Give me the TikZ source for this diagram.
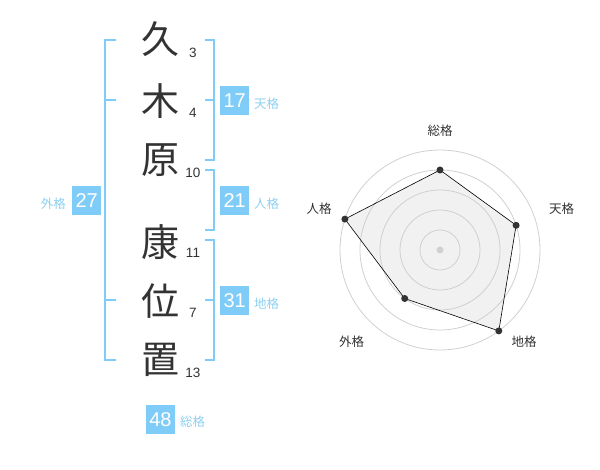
\documentclass[tikz,border=0pt]{standalone}
\usepackage{fontspec}
\setmainfont{Liberation Sans}
\newfontfamily\cjk{Noto Sans CJK JP}
\definecolor{badge}{RGB}{128,204,248}
\definecolor{lblue}{RGB}{140,208,242}
\definecolor{ink}{RGB}{51,51,51}
\definecolor{ring}{RGB}{208,208,208}
\definecolor{area}{RGB}{241,241,241}
\tikzset{
  kanji/.style={inner sep=0pt, text=ink, font=\cjk\fontsize{38}{38}\selectfont},
  strokes/.style={inner sep=0pt, text=ink, font=\fontsize{13.5}{13.5}\selectfont},
  badgebox/.style={fill=badge, text=white, minimum size=29pt, inner sep=0pt, font=\fontsize{20}{20}\selectfont},
  kaku/.style={inner sep=0pt, text=lblue, font=\cjk\fontsize{12.5}{12.5}\selectfont},
  brack/.style={draw=badge, line width=2pt},
  ringline/.style={draw=ring, line width=0.8pt},
  vert/.style={circle, fill=ink, inner sep=0pt, minimum size=7pt},
  rlabel/.style={inner sep=0pt, text=ink, font=\cjk\fontsize{12.5}{12.5}\selectfont},
}
\begin{document}
\begin{tikzpicture}[x=1pt,y=-1pt]
\useasboundingbox (0,0) rectangle (600,470);
% kanji
\node[kanji] (k1) at (160,39) {久};
\node[kanji] (k2) at (160,101) {木};
\node[kanji] (k3) at (160,160) {原};
\node[kanji] (k4) at (160,242) {康};
\node[kanji] (k5) at (160,301) {位};
\node[kanji] (k6) at (160,360) {置};
\node[strokes] (s1) at (193,53) {3};
\node[strokes] (s2) at (193,113) {4};
\node[strokes] (s3) at (193,173) {10};
\node[strokes] (s4) at (193,253) {11};
\node[strokes] (s5) at (193,313) {7};
\node[strokes] (s6) at (193,373) {13};
% brackets
\draw[brack] (116,40) -- (105,40) -- (105,360) -- (116,360);
\draw[brack] (105,100) -- (116,100);
\draw[brack] (105,300) -- (116,300);
\draw[brack] (205,40) -- (214,40) -- (214,160) -- (205,160);
\draw[brack] (205,100) -- (214,100);
\draw[brack] (205,170) -- (214,170) -- (214,230) -- (205,230);
\draw[brack] (205,240) -- (214,240) -- (214,360) -- (205,360);
\draw[brack] (205,300) -- (214,300);
% badges
\node[badgebox] (b17) at (234.7,100.5) {17};
\node[kaku, anchor=west] (l17) at (254,103.5) {天格};
\node[badgebox] (b21) at (234.7,200.5) {21};
\node[kaku, anchor=west] (l21) at (254,203.5) {人格};
\node[badgebox] (b27) at (86.7,200.5) {27};
\node[kaku, anchor=east] (l27) at (66,203.5) {外格};
\node[badgebox] (b31) at (234.7,300.5) {31};
\node[kaku, anchor=west] (l31) at (254,303.5) {地格};
\node[badgebox] (b48) at (160.5,419.5) {48};
\node[kaku, anchor=west] (l48) at (180,422) {総格};
% radar
\coordinate (c) at (440,250);
\fill[area] (440,170) -- (516.1,225.3) -- (498.8,330.9) -- (404.7,298.5) -- (344.9,219.1) -- cycle;
\foreach \r in {20,40,60,80,100} \draw[ringline] (c) circle[radius=\r pt];
\draw[black, line width=0.6pt] (440,170) -- (516.1,225.3) -- (498.8,330.9) -- (404.7,298.5) -- (344.9,219.1) -- cycle;
\node[circle, fill=ring, inner sep=0pt, minimum size=7pt] (cd) at (c) {};
\node[vert] (v1) at (440,170) {};
\node[vert] (v2) at (516.1,225.3) {};
\node[vert] (v3) at (498.8,330.9) {};
\node[vert] (v4) at (404.7,298.5) {};
\node[vert] (v5) at (344.9,219.1) {};
\node[rlabel] (r1) at (440,130.5) {総格};
\node[rlabel] (r2) at (561.7,208.3) {天格};
\node[rlabel] (r3) at (524,341.7) {地格};
\node[rlabel] (r4) at (351.7,341.7) {外格};
\node[rlabel] (r5) at (319,208.3) {人格};
\end{tikzpicture}
\end{document}
